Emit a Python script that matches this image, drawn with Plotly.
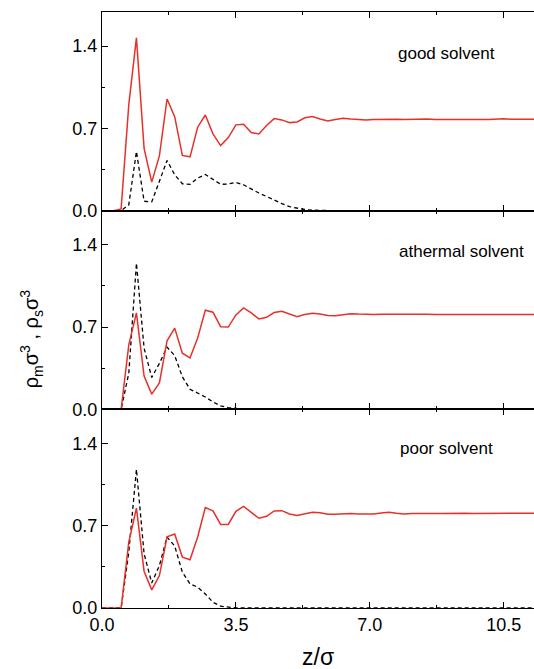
import plotly.graph_objects as go
from plotly.subplots import make_subplots

z = [0.0, 0.1, 0.3, 0.5, 0.7, 0.9, 1.1, 1.3, 1.5, 1.7, 1.9, 2.1, 2.3, 2.5, 2.7, 2.9,
     3.1, 3.3, 3.5, 3.7, 3.9, 4.1, 4.3, 4.5, 4.7, 4.9, 5.1, 5.3, 5.5, 5.7, 5.9,
     6.1, 6.3, 6.5, 6.7, 6.9, 7.1, 7.3, 7.5, 7.7, 7.9, 8.1, 8.3, 8.5, 8.7, 8.9,
     9.1, 9.3, 9.5, 9.7, 9.9, 10.1, 10.3, 10.5, 10.7, 10.9, 11.1, 11.3]

good_m = [0, 0, 0, 0.015, 0.90, 1.47, 0.53, 0.243, 0.466, 0.95, 0.80, 0.47, 0.458, 0.71, 0.814, 0.653,
          0.554, 0.622, 0.73, 0.735, 0.664, 0.653, 0.724, 0.783, 0.772, 0.749, 0.755, 0.79, 0.80, 0.78, 0.763,
          0.775, 0.786, 0.78, 0.777, 0.772, 0.776, 0.778, 0.777, 0.778, 0.776, 0.778, 0.780, 0.779, 0.776, 0.775,
          0.777, 0.778, 0.776, 0.775, 0.776, 0.776, 0.778, 0.782, 0.777, 0.776, 0.777, 0.777]
good_s = [0, 0, 0, 0, 0.05, 0.503, 0.08, 0.075, 0.25, 0.427, 0.305, 0.229, 0.224, 0.277, 0.308, 0.263,
          0.224, 0.227, 0.24, 0.22, 0.184, 0.15, 0.121, 0.087, 0.06, 0.034, 0.02, 0.01, 0.004, 0.001, 0,
          0, 0, 0, 0, 0, 0, 0, 0, 0, 0, 0, 0, 0, 0, 0,
          0, 0, 0, 0, 0, 0, 0, 0, 0, 0, 0, 0]

ath_m = [0, 0, 0, 0.0, 0.548, 0.82, 0.283, 0.129, 0.225, 0.583, 0.691, 0.477, 0.437, 0.606, 0.843, 0.826,
         0.703, 0.70, 0.803, 0.863, 0.82, 0.769, 0.783, 0.823, 0.834, 0.811, 0.788, 0.806, 0.817, 0.81, 0.798,
         0.797, 0.806, 0.814, 0.81, 0.807, 0.806, 0.808, 0.809, 0.807, 0.806, 0.808, 0.809, 0.808, 0.806, 0.805,
         0.806, 0.807, 0.806, 0.805, 0.806, 0.807, 0.807, 0.806, 0.805, 0.806, 0.807, 0.806]
ath_s = [0, 0, 0, 0, 0.306, 1.243, 0.52, 0.271, 0.391, 0.529, 0.457, 0.277, 0.171, 0.14, 0.105, 0.063,
         0.029, 0.015, 0.005, 0.001, 0, 0, 0, 0, 0, 0, 0, 0, 0, 0, 0,
         0, 0, 0, 0, 0, 0, 0, 0, 0, 0, 0, 0, 0, 0, 0,
         0, 0, 0, 0, 0, 0, 0, 0, 0, 0, 0, 0]

poor_m = [0, 0, 0, 0.0, 0.56, 0.85, 0.313, 0.154, 0.276, 0.606, 0.629, 0.433, 0.41, 0.604, 0.854, 0.826,
          0.711, 0.711, 0.823, 0.865, 0.814, 0.763, 0.78, 0.826, 0.828, 0.80, 0.786, 0.803, 0.814, 0.81, 0.797,
          0.797, 0.80, 0.803, 0.799, 0.797, 0.80, 0.808, 0.814, 0.806, 0.80, 0.803, 0.805, 0.806, 0.804, 0.803,
          0.805, 0.806, 0.805, 0.804, 0.805, 0.806, 0.806, 0.805, 0.804, 0.805, 0.806, 0.806]
poor_s = [0, 0, 0, 0, 0.476, 1.18, 0.461, 0.213, 0.361, 0.604, 0.527, 0.305, 0.205, 0.177, 0.12, 0.049,
          0.015, 0.005, 0, 0, 0, 0, 0, 0, 0, 0, 0, 0, 0, 0, 0,
          0, 0, 0, 0, 0, 0, 0, 0, 0, 0, 0, 0, 0, 0, 0,
          0, 0, 0, 0, 0, 0, 0, 0, 0, 0, 0, 0]

panel_labels = ["good solvent", "athermal solvent", "poor solvent"]
label_x = [9.0, 9.4, 9.0]
label_y = [1.34, 1.34, 1.36]
x_ticks = [0.0, 3.5, 7.0, 10.5]
y_ticks = [0.0, 0.7, 1.4]

RED = "#e8302a"
FONT = "Liberation Sans, Arial, sans-serif"

fig = make_subplots(rows=3, cols=1, shared_xaxes=True, vertical_spacing=0)

series = [(good_m, good_s), (ath_m, ath_s), (poor_m, poor_s)]
for i, (m, s) in enumerate(series, start=1):
    fig.add_trace(go.Scatter(x=z, y=s, mode="lines",
                             line=dict(color="black", width=1.3, dash="4px,3px"),
                             showlegend=False), row=i, col=1)
    fig.add_trace(go.Scatter(x=z, y=m, mode="lines",
                             line=dict(color=RED, width=1.5),
                             showlegend=False), row=i, col=1)
    fig.add_annotation(x=label_x[i - 1], y=label_y[i - 1], text=panel_labels[i - 1],
                       showarrow=False, font=dict(family=FONT, size=17, color="black"),
                       xanchor="center", yanchor="middle",
                       xref=f"x{'' if i == 1 else i}", yref=f"y{'' if i == 1 else i}")

    fig.update_xaxes(row=i, col=1, range=[0, 11.29], tickvals=x_ticks,
                     ticktext=[f"{v:.1f}" for v in x_ticks],
                     ticks="inside", ticklen=6, tickwidth=1, tickcolor="black",
                     showline=True, linecolor="black", linewidth=1.2, mirror="allticks",
                     showgrid=False, zeroline=False,
                     minor=dict(tickvals=[1.75, 5.25, 8.75], ticks="inside", ticklen=3,
                                tickcolor="black", showgrid=False),
                     showticklabels=(i == 3),
                     tickfont=dict(family=FONT, size=18, color="black"))
    fig.update_yaxes(row=i, col=1, range=[0, 1.69], tickvals=y_ticks,
                     ticktext=[f"{v:.1f}" for v in y_ticks],
                     ticks="inside", ticklen=6, tickwidth=1, tickcolor="black",
                     showline=True, linecolor="black", linewidth=1.2, mirror=True,
                     showgrid=False, zeroline=False,
                     minor=dict(tickvals=[0.35, 1.05], ticks="inside", ticklen=3,
                                tickcolor="black", showgrid=False),
                     tickfont=dict(family=FONT, size=18, color="black"))

fig.add_annotation(x=0.5, y=-0.082, xref="paper", yref="paper",
                   text="z/σ", showarrow=False, xanchor="center", yanchor="middle",
                   font=dict(family=FONT, size=23, color="black"))
fig.add_annotation(x=-0.164, y=0.451, xref="paper", yref="paper",
                   text="ρ<sub>m</sub>σ<sup>3</sup> , ρ<sub>s</sub>σ<sup>3</sup>",
                   textangle=-90, showarrow=False, xanchor="center", yanchor="middle",
                   font=dict(family=FONT, size=20, color="black"))

fig.update_layout(width=534, height=669, plot_bgcolor="white", paper_bgcolor="white",
                  margin=dict(l=102, r=0, t=12, b=61), showlegend=False)

fig.write_html("out.html", config={"displayModeBar": False},
               post_script="document.body.style.margin='0';document.body.style.padding='0';")
